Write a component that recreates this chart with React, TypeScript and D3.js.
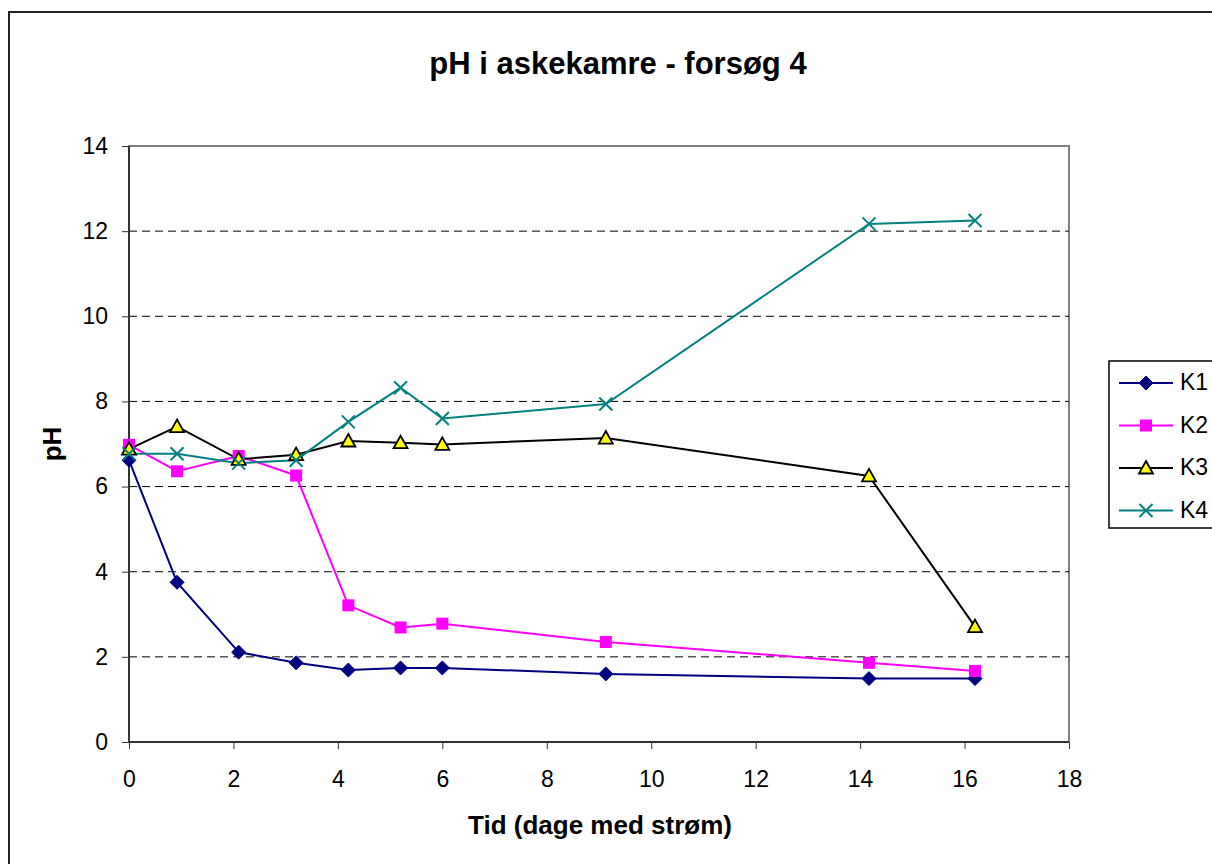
import React, { useEffect, useRef } from "react";
import * as d3 from "d3";

// dage med strøm
const days = [0, 0.92, 2.1, 3.2, 4.2, 5.2, 6.0, 9.13, 14.17, 16.2];
const k1 = [6.62, 3.75, 2.11, 1.86, 1.69, 1.74, 1.74, 1.6, 1.49, 1.49];
const k2 = [6.98, 6.36, 6.72, 6.26, 3.21, 2.69, 2.78, 2.35, 1.86, 1.67];
const k3 = [6.88, 7.41, 6.64, 6.75, 7.07, 7.03, 6.99, 7.14, 6.25, 2.71];
const k4 = [6.77, 6.77, 6.55, 6.62, 7.52, 8.32, 7.6, 7.94, 12.17, 12.25];
const seriesNames = ["K1", "K2", "K3", "K4"];
const xTicks = [0, 2, 4, 6, 8, 10, 12, 14, 16, 18];
const yTicks = [0, 2, 4, 6, 8, 10, 12, 14];

const colors = ["#000080", "#FF00FF", "#000000", "#008080"];
const font = "Arial, 'Liberation Sans', sans-serif";

function drawMarker(g: any, kind: number, x: number, y: number) {
  if (kind === 0) {
    g.append("path")
      .attr("d", `M${x},${y - 7}L${x + 7},${y}L${x},${y + 7}L${x - 7},${y}Z`)
      .attr("fill", "#000080").attr("stroke", "#000080").attr("stroke-width", 1);
  } else if (kind === 1) {
    g.append("rect").attr("x", x - 6).attr("y", y - 6).attr("width", 12).attr("height", 12)
      .attr("fill", "#FF00FF");
  } else if (kind === 2) {
    g.append("path")
      .attr("d", `M${x},${y - 7}L${x + 7},${y + 5.5}L${x - 7},${y + 5.5}Z`)
      .attr("fill", "#FFFF00").attr("stroke", "#000").attr("stroke-width", 1.8);
  } else {
    g.append("path")
      .attr("d", `M${x - 6.5},${y - 6.5}L${x + 6.5},${y + 6.5}M${x + 6.5},${y - 6.5}L${x - 6.5},${y + 6.5}`)
      .attr("stroke", "#008080").attr("stroke-width", 2).attr("fill", "none");
  }
}

export default function App() {
  const ref = useRef<SVGSVGElement>(null);

  useEffect(() => {
    const svg = d3.select(ref.current);
    svg.selectAll("*").remove();
    const width = 1212, height = 864;
    const margin = { top: 146, right: 143, bottom: 122, left: 129 };

    const x = d3.scaleLinear().domain([0, 18]).range([margin.left, width - margin.right]);
    const y = d3.scaleLinear().domain([0, 14]).range([height - margin.bottom, margin.top]);

    svg.append("rect").attr("width", width).attr("height", height).attr("fill", "#fff");
    // outer chart frame (runs off the page right and bottom)
    svg.append("rect").attr("x", 9).attr("y", 12).attr("width", 1300).attr("height", 1000)
      .attr("fill", "none").attr("stroke", "#222").attr("stroke-width", 2);

    // plot area border
    svg.append("rect")
      .attr("x", x(0)).attr("y", y(14))
      .attr("width", x(18) - x(0)).attr("height", y(0) - y(14))
      .attr("fill", "none").attr("stroke", "#808080").attr("stroke-width", 2);

    // gridlines
    svg.append("g").selectAll("line")
      .data(yTicks.filter(d => d > 0 && d < 14))
      .join("line")
      .attr("x1", x(0)).attr("x2", x(18))
      .attr("y1", d => y(d)).attr("y2", d => y(d))
      .attr("stroke", "#000").attr("stroke-width", 1).attr("stroke-dasharray", "8,5");

    // axes
    const xAxis = svg.append("g")
      .attr("transform", `translate(0,${y(0)})`)
      .call(d3.axisBottom(x).tickValues(xTicks).tickSize(7).tickPadding(22).tickFormat(d3.format("d")));
    const yAxis = svg.append("g")
      .attr("transform", `translate(${x(0)},0)`)
      .call(d3.axisLeft(y).tickValues(yTicks).tickSize(7).tickPadding(14).tickFormat(d3.format("d")));
    [xAxis, yAxis].forEach(a => {
      a.attr("font-family", font).attr("font-size", 23);
      a.select(".domain").attr("stroke", "#333").attr("stroke-width", 2);
      a.selectAll(".tick line").attr("stroke", "#333");
      a.selectAll("text").attr("fill", "#000");
    });
    yAxis.select(".domain").attr("d", `M0,${y(0)}V${y(14)}`);
    xAxis.select(".domain").attr("d", `M${x(0)},0H${x(18)}`);

    // series
    const all = [k1, k2, k3, k4];
    const line = d3.line<number>().x((d, i) => x(days[i])).y(d => y(d));
    all.forEach((vals, s) => {
      svg.append("path").datum(vals)
        .attr("d", line)
        .attr("fill", "none").attr("stroke", colors[s]).attr("stroke-width", 2);
    });
    all.forEach((vals, s) => {
      const g = svg.append("g");
      vals.forEach((v, i) => drawMarker(g, s, x(days[i]), y(v)));
    });

    // title + axis labels
    svg.append("text").attr("x", 618).attr("y", 74).attr("text-anchor", "middle")
      .attr("font-family", font).attr("font-weight", "bold").attr("font-size", 31)
      .text("pH i askekamre - forsøg 4");
    svg.append("text").attr("x", 600).attr("y", 834).attr("text-anchor", "middle")
      .attr("font-family", font).attr("font-weight", "bold").attr("font-size", 26)
      .text("Tid (dage med strøm)");
    svg.append("text").attr("transform", `translate(61,${y(7)}) rotate(-90)`)
      .attr("text-anchor", "middle")
      .attr("font-family", font).attr("font-weight", "bold").attr("font-size", 26)
      .text("pH");

    // legend
    const lg = svg.append("g");
    lg.append("rect").attr("x", 1109).attr("y", 361).attr("width", 120).attr("height", 167)
      .attr("fill", "#fff").attr("stroke", "#000").attr("stroke-width", 1.5);
    seriesNames.forEach((name, s) => {
      const ly = 383 + s * 42.5;
      lg.append("line").attr("x1", 1119).attr("x2", 1173).attr("y1", ly).attr("y2", ly)
        .attr("stroke", colors[s]).attr("stroke-width", 2);
      drawMarker(lg, s, 1146, ly);
      lg.append("text").attr("x", 1180).attr("y", ly + 7)
        .attr("font-family", font).attr("font-size", 23).text(name);
    });
  }, []);

  return <svg ref={ref} width={1212} height={864} style={{ display: "block", position: "absolute", left: 0, top: 0 }} />;
}
